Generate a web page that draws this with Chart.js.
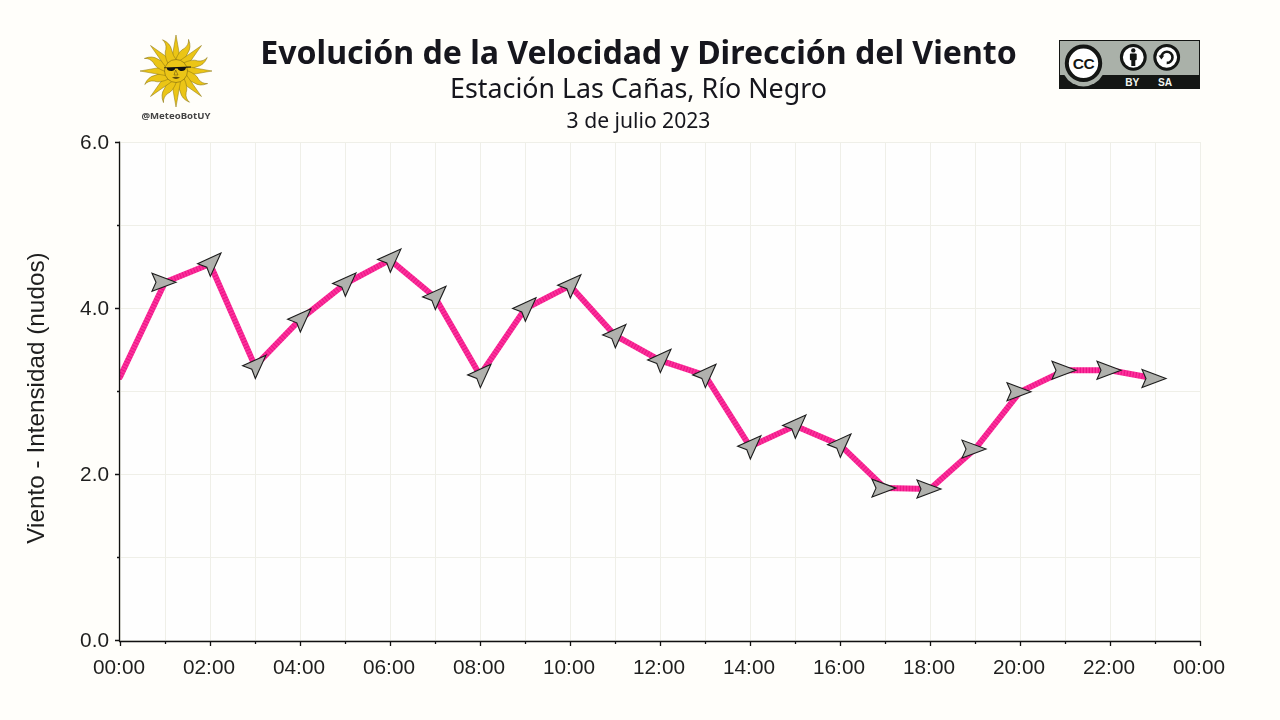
<!DOCTYPE html>
<html lang="es">
<head>
<meta charset="utf-8">
<title>Evolución de la Velocidad y Dirección del Viento</title>
<script src="https://cdn.jsdelivr.net/npm/chart.js@4"></script>
<style>
  html, body { margin: 0; padding: 0; background: #fffefa; width: 1280px; height: 720px; overflow: hidden; }
  #wrap { position: relative; width: 1280px; height: 720px; }
  canvas#c { position: absolute; left: 0; top: 0; }
  .t { position: absolute; left: 0; width: 1277px; text-align: center; font-family: "Noto Sans", sans-serif; color: #16161d; white-space: nowrap; line-height: 1; }
  #t1 { top: 36px; font-size: 32.1px; font-weight: 700; }
  #t2 { top: 75px; font-size: 26.8px; }
  #t3 { top: 109px; font-size: 21.1px; }
  svg { position: absolute; overflow: visible; }
</style>
</head>
<body>
<div id="wrap">
  <canvas id="c" width="1280" height="720"></canvas>
  <div class="t" id="t1">Evolución de la Velocidad y Dirección del Viento</div>
  <div class="t" id="t2">Estación Las Cañas, Río Negro</div>
  <div class="t" id="t3">3 de julio 2023</div>

  <svg id="sun" style="left:0;top:0" width="300" height="130" viewBox="0 0 300 130">
    <g id="rays"></g>
    <circle cx="176" cy="71" r="11.5" fill="#ebc516" stroke="#7a6410" stroke-width=".6"/>
    <path d="M164 67.5 L191 66.5 L191 67.6 L186 67.8 Q185 71.6 180.6 71 Q178 70.6 177.6 68.6 L175.2 68.6 Q174.6 71 171.4 71 Q167 71 166.6 68 L164 68.3 Z" fill="#111"/>
    <path d="M175.7 70 L174 75 L178 75 Z" fill="none" stroke="#6b5510" stroke-width=".6"/>
    <path d="M172 77.6 Q176 75.8 180 77.6 Q176 80.4 172 77.6 Z" fill="#5f4a0c"/>
    <text x="176" y="118.5" text-anchor="middle" font-family="Noto Sans" font-weight="700" font-size="9.6" fill="#444">@MeteoBotUY</text>
  </svg>

  <svg style="left:1059px;top:40px" width="141" height="49" viewBox="0 0 141 49">
    <rect x="0" y="0" width="141" height="49" fill="#aab1a9"/>
    <rect x="0" y="35" width="141" height="14" fill="#141614"/>
    <rect x=".5" y=".5" width="140" height="48" fill="none" stroke="#141614"/>
    <path d="M5.4 35 A21.7 21.7 0 0 0 43.6 35 Z" fill="#aab1a9"/>
    <circle cx="24.5" cy="23.3" r="16.7" fill="#fff" stroke="#141614" stroke-width="4"/>
    <text x="24.5" y="28.8" text-anchor="middle" font-family="Liberation Sans" font-weight="700" font-size="15.5" letter-spacing="-.4" fill="#141614">CC</text>
    <circle cx="74.3" cy="17.3" r="11.9" fill="#fff" stroke="#141614" stroke-width="3"/>
    <circle cx="74.3" cy="10.4" r="2.2" fill="#141614"/>
    <rect x="70.9" y="13.4" width="6.8" height="6.8" rx="1" fill="#141614"/>
    <rect x="72.3" y="19" width="4" height="7" fill="#141614"/>
    <circle cx="107.7" cy="17.3" r="11.9" fill="#fff" stroke="#141614" stroke-width="3"/>
    <path d="M102.3 17.3 A5.6 5.6 0 1 1 107.7 22.9" fill="none" stroke="#141614" stroke-width="2.6"/>
    <path d="M99.5 15.4 L105.3 15.4 L102.4 19.4 Z" fill="#141614"/>
    <text x="73.3" y="46" text-anchor="middle" font-family="Liberation Sans" font-weight="700" font-size="10.2" fill="#f2f4f0">BY</text>
    <text x="106" y="46" text-anchor="middle" font-family="Liberation Sans" font-weight="700" font-size="10.2" fill="#f2f4f0">SA</text>
  </svg>
</div>

<script>
// ---- data ----
const hourLabels = ["00:00","01:00","02:00","03:00","04:00","05:00","06:00","07:00","08:00","09:00","10:00","11:00","12:00","13:00","14:00","15:00","16:00","17:00","18:00","19:00","20:00","21:00","22:00","23:00","00:00"];
const windSpeed = [3.17,4.31,4.53,3.30,3.86,4.29,4.58,4.13,3.19,3.99,4.27,3.67,3.37,3.19,2.33,2.58,2.35,1.83,1.82,2.30,2.99,3.25,3.25,3.15];
// compass bearing the arrow points to (degrees); first hour has no arrow drawn
const windBearing = [null,90,45,45,45,45,45,45,45,45,45,45,45,45,45,45,45,90,90,90,90,90,90,90];
const yTickValues = [0,1,2,3,4,5,6];
const yTickLabels = ["0.0","","2.0","","4.0","","6.0"];
const yAxisTitle = "Viento - Intensidad (nudos)";

// ---- logo rays (decoration) ----
(function(){
  const cx=176, cy=71, g=document.getElementById('rays');
  let html='';
  for(let i=0;i<16;i++){
    const a=i*22.5;
    if(i%2===0){
      html+=`<path transform="rotate(${a} ${cx} ${cy})" d="M${cx-4.6} ${cy-10} L${cx} ${cy-36} L${cx+4.6} ${cy-10} Z" fill="#ebc516" stroke="#8a7412" stroke-width=".5"/>`;
    }else{
      html+=`<path transform="rotate(${a} ${cx} ${cy})" d="M${cx-4.6} ${cy-10} Q${cx-5} ${cy-20} ${cx-1} ${cy-24} Q${cx+2} ${cy-29} ${cx-0.5} ${cy-34} Q${cx+5.5} ${cy-28} ${cx+4} ${cy-21} Q${cx+3} ${cy-15} ${cx+4.6} ${cy-10} Z" fill="#ebc516" stroke="#8a7412" stroke-width=".5"/>`;
    }
  }
  g.innerHTML=html;
})();

const AXIS='#111', GRID='#efefe8';

// fine cross-stripes along each line segment
const stripeTile=document.createElement('canvas');
stripeTile.width=3; stripeTile.height=1;
(function(){
  const t=stripeTile.getContext('2d');
  ['#ee1286','#fc359e','#f92a96'].forEach((col,i)=>{ t.fillStyle=col; t.fillRect(i,0,1,1); });
})();
function stripeFor(ctx){
  const a=ctx.p0, b=ctx.p1;
  const pat=document.getElementById('c').getContext('2d').createPattern(stripeTile,'repeat');
  const ang=Math.atan2(b.y-a.y,b.x-a.x)*180/Math.PI;
  pat.setTransform(new DOMMatrix().rotate(ang));
  return pat;
}

const plotBg = {
  id:'plotBg',
  beforeDraw(ch){
    const a=ch.chartArea, c=ch.ctx;
    c.save(); c.fillStyle='#fefefe'; c.fillRect(a.left,a.top,a.right-a.left,a.bottom-a.top); c.restore();
  },
  afterLayout(ch){
    // y-axis title sits a little below the middle of the plot
    const s=ch.scales.y;
    if(s._titleWrapped) return;
    const orig=s.drawTitle;
    s.drawTitle=function(){ const c=this.ctx; c.save(); c.translate(0,6.5); orig.call(this); c.restore(); };
    s._titleWrapped=true;
  }
};

const axisMarks = {
  id:'axisMarks',
  afterDatasetsDraw(ch){
    const c=ch.ctx, a=ch.chartArea, x=ch.scales.x, y=ch.scales.y;
    c.save();
    c.strokeStyle=AXIS; c.lineWidth=1.3; c.lineCap='butt';
    c.beginPath();
    c.moveTo(a.left-.5,a.top-.5); c.lineTo(a.left-.5,a.bottom+.5);
    c.moveTo(a.left-1,a.bottom+.5); c.lineTo(a.right+.6,a.bottom+.5);
    yTickValues.forEach((v,i)=>{
      const p=Math.round(y.getPixelForValue(v))+.5, len=i%2===0?5:3;
      c.moveTo(a.left-len,p); c.lineTo(a.left,p);
    });
    hourLabels.forEach((l,i)=>{
      const p=x.getPixelForValue(i)+.5, len=i%2===0?5:3;
      c.moveTo(p,a.bottom); c.lineTo(p,a.bottom+len);
    });
    c.stroke();
    c.restore();
  }
};

const windArrows = {
  id:'windArrows',
  afterDatasetsDraw(ch){
    const c=ch.ctx, pts=ch.getDatasetMeta(0).data;
    c.save();
    pts.forEach((pt,i)=>{
      const b=windBearing[i];
      if(b===null) return;
      const th=(b-90)*Math.PI/180;
      const shift=-1+4.5*Math.abs(b-90)/45;
      c.save();
      c.translate(pt.x,pt.y);
      c.rotate(th);
      c.translate(shift,0);
      c.beginPath();
      c.moveTo(12,0); c.lineTo(-12,-9); c.lineTo(-8,0); c.lineTo(-12,9); c.closePath();
      c.fillStyle='#b0b1ad'; c.strokeStyle='#1c1c1c'; c.lineWidth=1.1; c.lineJoin='miter';
      c.fill(); c.stroke();
      c.restore();
    });
    c.restore();
  }
};

new Chart(document.getElementById('c'),{
  type:'line',
  data:{
    labels:hourLabels,
    datasets:[{
      label:'Viento',
      data:windSpeed,
      borderColor:'#f5208f',
      borderWidth:6,
      pointRadius:0,
      tension:0,
      fill:false,
      borderCapStyle:'round',
      segment:{borderColor:stripeFor},
      clip:0
    }]
  },
  options:{
    responsive:false,
    animation:false,
    devicePixelRatio:1,
    layout:{padding:{top:142,right:80,left:0,bottom:0}},
    plugins:{legend:{display:false},title:{display:false},tooltip:{enabled:false}},
    scales:{
      x:{
        type:'category',
        offset:false,
        afterFit(s){ s.height=79; },
        border:{display:false},
        grid:{color:GRID,lineWidth:1,drawTicks:false},
        ticks:{
          autoSkip:false,maxRotation:0,minRotation:0,padding:15,labelOffset:-1,color:'#1e1e1e',
          font:{family:'"Liberation Sans"',size:20.8},
          callback(v,i){ return i%2===0?hourLabels[i]:''; }
        }
      },
      y:{
        type:'linear',
        min:-0.012,max:6,
        afterFit(s){ s.width=120; },
        afterBuildTicks(s){ s.ticks=yTickValues.map(v=>({value:v})); },
        border:{display:false},
        grid:{color:GRID,lineWidth:1,drawTicks:false},
        title:{display:true,text:yAxisTitle,color:'#1e1e1e',font:{family:'"Liberation Sans"',size:24.3},padding:{top:23,bottom:0}},
        ticks:{
          padding:11,labelOffset:1,color:'#1e1e1e',
          font:{family:'"Liberation Sans"',size:20.8},
          callback(v){ const i=yTickValues.indexOf(v); return i<0?'':yTickLabels[i]; }
        }
      }
    }
  },
  plugins:[plotBg,axisMarks,windArrows]
});
</script>
</body>
</html>
